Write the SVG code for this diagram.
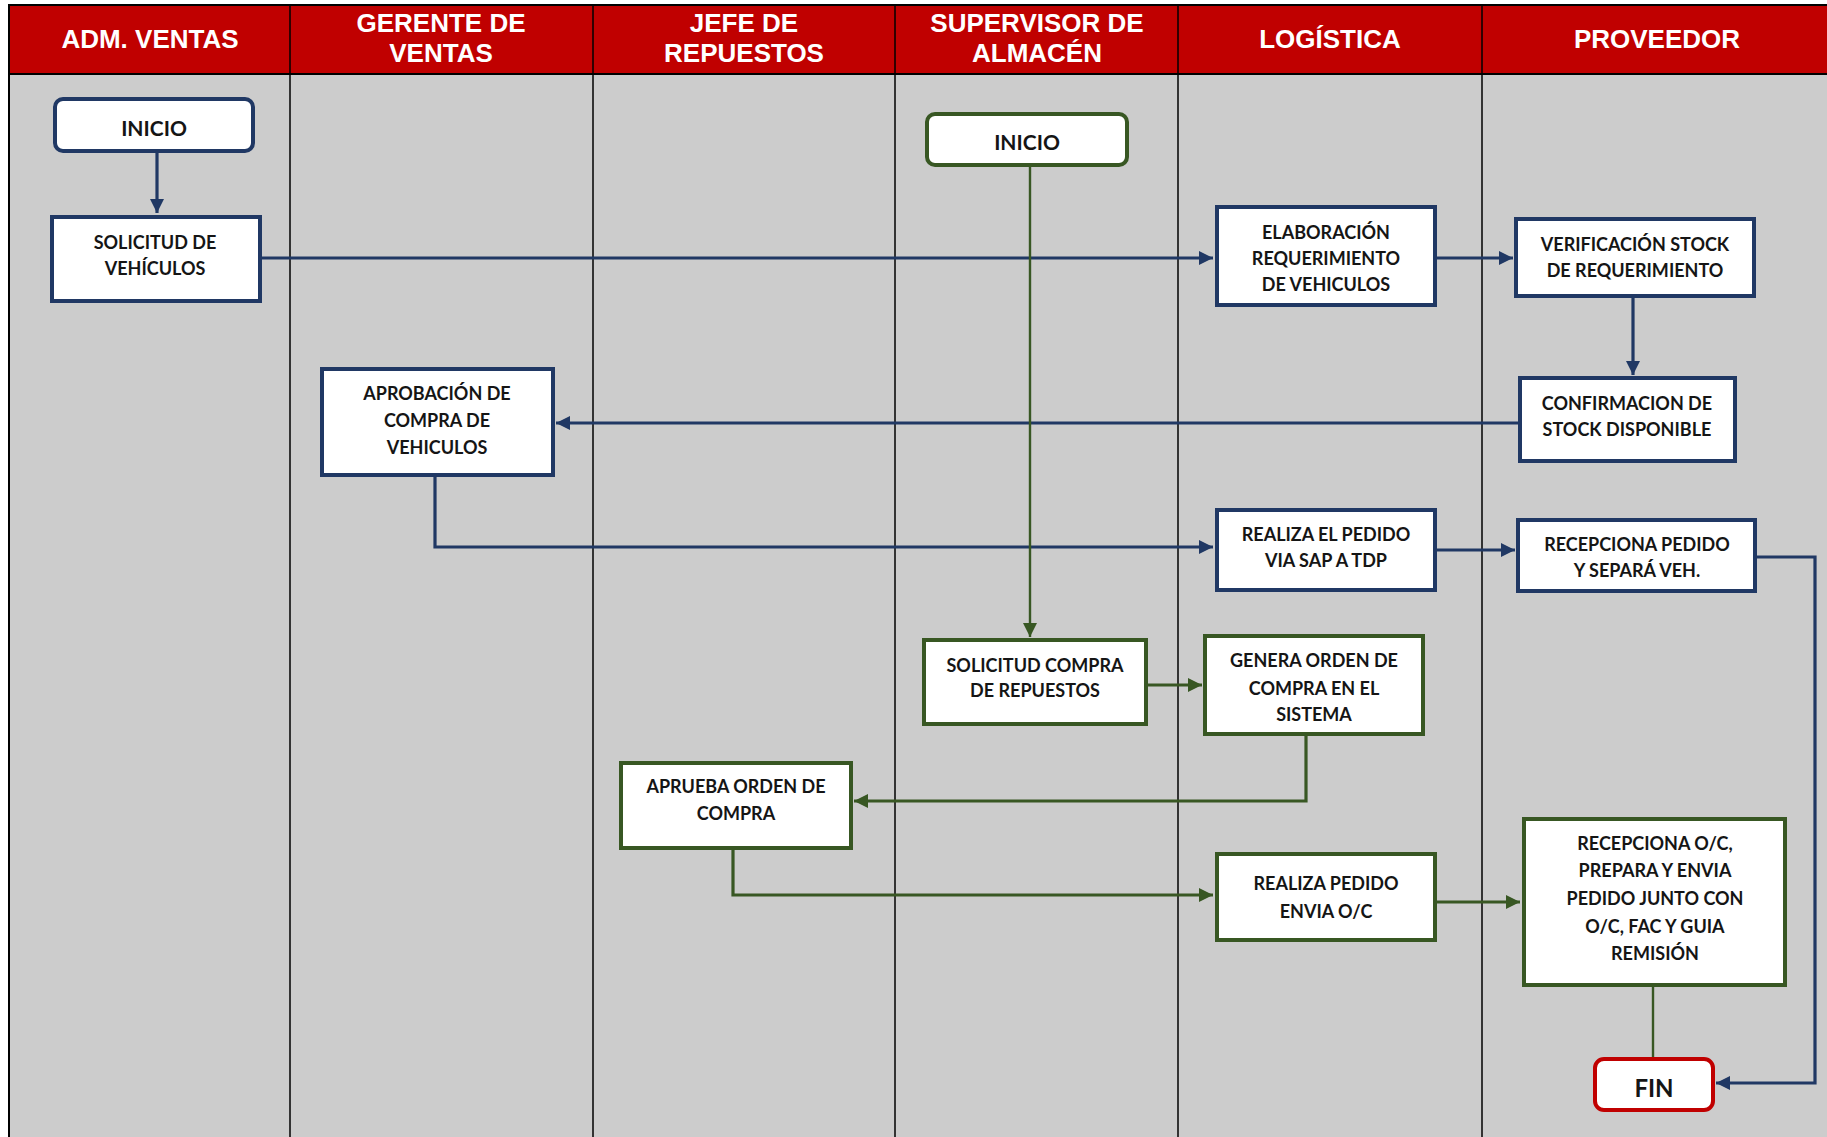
<svg xmlns="http://www.w3.org/2000/svg" width="1827" height="1137" viewBox="0 0 1827 1137">
  <defs>
    <style>
      .lane-head { font-family: "Liberation Sans", Arial, sans-serif; font-weight: bold; font-size: 26px; fill: #ffffff; text-anchor: middle; }
      .divider { stroke: #000000; stroke-width: 1.5; }
      .box { fill: #ffffff; stroke-width: 4; }
      .blue { stroke: #203864; }
      .green { stroke: #385723; }
      .red { stroke: #C00000; }
      .label { font-family: Lato, "Liberation Sans", sans-serif; font-weight: bold; font-size: 18px; fill: #151515; text-anchor: middle; }
      .term { font-size: 21px; }
      .flow { fill: none; stroke-width: 3.2; }
      .thin { stroke-width: 2.4; }
    </style>
    <marker id="arrow-blue" markerUnits="userSpaceOnUse" markerWidth="16" markerHeight="16" refX="14" refY="7" orient="auto">
      <path d="M0,0 L14,7 L0,14 Z" fill="#203864"/>
    </marker>
    <marker id="arrow-green" markerUnits="userSpaceOnUse" markerWidth="16" markerHeight="16" refX="14" refY="7" orient="auto">
      <path d="M0,0 L14,7 L0,14 Z" fill="#385723"/>
    </marker>
  </defs>

  <rect x="0" y="0" width="1827" height="1137" fill="#ffffff"/>

  <!-- swimlane table -->
  <g id="lanes">
    <rect x="9" y="5" width="1840" height="1150" fill="#CCCCCC" stroke="#000000" stroke-width="2"/>
    <rect x="9" y="5" width="1840" height="69" fill="#C00000" stroke="#000000" stroke-width="2"/>
    <line class="divider" x1="290" y1="5" x2="290" y2="1137"/>
    <line class="divider" x1="593" y1="5" x2="593" y2="1137"/>
    <line class="divider" x1="895" y1="5" x2="895" y2="1137"/>
    <line class="divider" x1="1178" y1="5" x2="1178" y2="1137"/>
    <line class="divider" x1="1482" y1="5" x2="1482" y2="1137"/>
    <text class="lane-head" x="150" y="48">ADM. VENTAS</text>
    <text class="lane-head" x="441" y="32">GERENTE DE</text>
    <text class="lane-head" x="441" y="62">VENTAS</text>
    <text class="lane-head" x="744" y="32">JEFE DE</text>
    <text class="lane-head" x="744" y="62">REPUESTOS</text>
    <text class="lane-head" x="1037" y="32">SUPERVISOR DE</text>
    <text class="lane-head" x="1037" y="62">ALMACÉN</text>
    <text class="lane-head" x="1330" y="48">LOGÍSTICA</text>
    <text class="lane-head" x="1657" y="48">PROVEEDOR</text>
  </g>

  <!-- connectors -->
  <g id="connectors">
    <path class="flow blue" d="M157 153 V213" marker-end="url(#arrow-blue)"/>
    <path class="flow blue" d="M262 258 H1213" marker-end="url(#arrow-blue)"/>
    <path class="flow blue" d="M1437 258 H1513" marker-end="url(#arrow-blue)"/>
    <path class="flow blue" d="M1633 298 V375" marker-end="url(#arrow-blue)"/>
    <path class="flow blue" d="M1518 423 H556" marker-end="url(#arrow-blue)"/>
    <path class="flow blue" d="M435 477 V547 H1213" marker-end="url(#arrow-blue)"/>
    <path class="flow blue" d="M1437 550 H1515" marker-end="url(#arrow-blue)"/>
    <path class="flow blue" d="M1757 557 H1815 V1083 H1716" marker-end="url(#arrow-blue)"/>
    <path class="flow green thin" d="M1030 167 V637" marker-end="url(#arrow-green)"/>
    <path class="flow green" d="M1148 685 H1202" marker-end="url(#arrow-green)"/>
    <path class="flow green" d="M1306 736 V801 H854" marker-end="url(#arrow-green)"/>
    <path class="flow green" d="M733 850 V895 H1213" marker-end="url(#arrow-green)"/>
    <path class="flow green" d="M1437 902 H1520" marker-end="url(#arrow-green)"/>
    <path class="flow green thin" d="M1653 987 V1057"/>
  </g>

  <!-- nodes -->
  <g id="inicio-ventas">
    <rect class="box blue" x="55" y="99" width="198" height="52" rx="8"/>
    <text class="label term" x="154" y="136">INICIO</text>
  </g>
  <g id="solicitud-vehiculos">
    <rect class="box blue" x="52" y="217" width="208" height="84"/>
    <text class="label" x="155" y="249">SOLICITUD DE</text>
    <text class="label" x="155" y="275">VEHÍCULOS</text>
  </g>
  <g id="elaboracion-requerimiento">
    <rect class="box blue" x="1217" y="207" width="218" height="98"/>
    <text class="label" x="1326" y="239">ELABORACIÓN</text>
    <text class="label" x="1326" y="265">REQUERIMIENTO</text>
    <text class="label" x="1326" y="291">DE VEHICULOS</text>
  </g>
  <g id="verificacion-stock">
    <rect class="box blue" x="1516" y="219" width="238" height="77"/>
    <text class="label" x="1635" y="251">VERIFICACIÓN STOCK</text>
    <text class="label" x="1635" y="277">DE REQUERIMIENTO</text>
  </g>
  <g id="inicio-almacen">
    <rect class="box green" x="927" y="114" width="200" height="51" rx="8"/>
    <text class="label term" x="1027" y="150">INICIO</text>
  </g>
  <g id="aprobacion-compra">
    <rect class="box blue" x="322" y="369" width="231" height="106"/>
    <text class="label" x="437" y="400">APROBACIÓN DE</text>
    <text class="label" x="437" y="427">COMPRA DE</text>
    <text class="label" x="437" y="454">VEHICULOS</text>
  </g>
  <g id="confirmacion-stock">
    <rect class="box blue" x="1520" y="378" width="215" height="83"/>
    <text class="label" x="1627" y="410">CONFIRMACION DE</text>
    <text class="label" x="1627" y="436">STOCK DISPONIBLE</text>
  </g>
  <g id="realiza-pedido-sap">
    <rect class="box blue" x="1217" y="510" width="218" height="80"/>
    <text class="label" x="1326" y="541">REALIZA EL PEDIDO</text>
    <text class="label" x="1326" y="567">VIA SAP A TDP</text>
  </g>
  <g id="recepciona-pedido">
    <rect class="box blue" x="1518" y="520" width="237" height="71"/>
    <text class="label" x="1637" y="551">RECEPCIONA PEDIDO</text>
    <text class="label" x="1637" y="577">Y SEPARÁ VEH.</text>
  </g>
  <g id="solicitud-repuestos">
    <rect class="box green" x="924" y="640" width="222" height="84"/>
    <text class="label" x="1035" y="672">SOLICITUD COMPRA</text>
    <text class="label" x="1035" y="697">DE REPUESTOS</text>
  </g>
  <g id="genera-orden">
    <rect class="box green" x="1205" y="636" width="218" height="98"/>
    <text class="label" x="1314" y="667">GENERA ORDEN DE</text>
    <text class="label" x="1314" y="695">COMPRA EN EL</text>
    <text class="label" x="1314" y="721">SISTEMA</text>
  </g>
  <g id="aprueba-orden">
    <rect class="box green" x="621" y="763" width="230" height="85"/>
    <text class="label" x="736" y="793">APRUEBA ORDEN DE</text>
    <text class="label" x="736" y="820">COMPRA</text>
  </g>
  <g id="realiza-pedido-oc">
    <rect class="box green" x="1217" y="854" width="218" height="86"/>
    <text class="label" x="1326" y="890">REALIZA PEDIDO</text>
    <text class="label" x="1326" y="918">ENVIA O/C</text>
  </g>
  <g id="recepciona-oc">
    <rect class="box green" x="1524" y="819" width="261" height="166"/>
    <text class="label" x="1655" y="850">RECEPCIONA O/C,</text>
    <text class="label" x="1655" y="877">PREPARA Y ENVIA</text>
    <text class="label" x="1655" y="905">PEDIDO JUNTO CON</text>
    <text class="label" x="1655" y="933">O/C, FAC Y GUIA</text>
    <text class="label" x="1655" y="960">REMISIÓN</text>
  </g>
  <g id="fin">
    <rect class="box red" x="1595" y="1059" width="118" height="51" rx="9"/>
    <text class="label" x="1654" y="1097" style="font-size:24px">FIN</text>
  </g>
</svg>
